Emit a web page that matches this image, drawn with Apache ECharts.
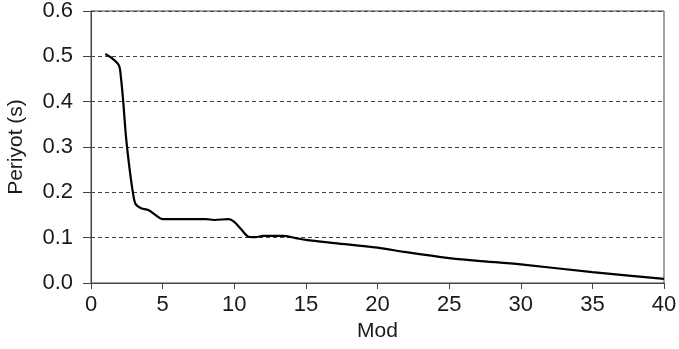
<!DOCTYPE html>
<html>
<head>
<meta charset="utf-8">
<script src="https://cdn.jsdelivr.net/npm/echarts@6/dist/echarts.min.js"></script>
<style>html,body{margin:0;padding:0;background:#fff}#c{width:679px;height:349px}</style>
</head>
<body>
<div id="c"></div>
<script>
var modes = [1, 1.5, 1.95, 2.1, 2.25, 2.45, 2.7, 2.9, 3.1, 3.5, 4.0, 4.5, 5.0, 6, 7, 8, 8.6, 9.6, 10, 10.5, 11, 11.5, 12, 13.4, 14.3, 15, 17, 20, 22, 25, 27, 30, 35, 40];
var periods = [0.505, 0.495, 0.480, 0.450, 0.400, 0.320, 0.250, 0.205, 0.175, 0.165, 0.161, 0.150, 0.141, 0.141, 0.141, 0.141, 0.139, 0.141, 0.135, 0.118, 0.102, 0.101, 0.104, 0.104, 0.099, 0.095, 0.088, 0.078, 0.068, 0.055, 0.049, 0.041, 0.024, 0.009];
var xTicks = [0, 5, 10, 15, 20, 25, 30, 35, 40];
var yTicks = [0.0, 0.1, 0.2, 0.3, 0.4, 0.5, 0.6];
var xName = 'Mod';
var yName = 'Periyot (s)';

var data = modes.map(function (m, i) { return [m, periods[i]]; });
var font = '"Liberation Sans", Arial, sans-serif';
var chart = echarts.init(document.getElementById('c'), null, {renderer: 'canvas'});
chart.setOption({
  animation: false,
  backgroundColor: '#fff',
  grid: {left: 91, right: 15, top: 11, bottom: 66, containLabel: false, outerBoundsMode: 'none',
    show: true, borderColor: '#444', borderWidth: 1, backgroundColor: 'transparent'},
  xAxis: {
    type: 'value', min: xTicks[0], max: xTicks[xTicks.length - 1], interval: 5,
    name: xName, nameLocation: 'middle', nameGap: 35,
    nameTextStyle: {fontFamily: font, fontSize: 21, color: '#1a1a1a'},
    axisLine: {show: true, lineStyle: {color: '#444', width: 1}},
    axisTick: {show: true, length: 6, lineStyle: {color: '#444'}},
    axisLabel: {fontFamily: font, fontSize: 22, color: '#1a1a1a', margin: 11},
    splitLine: {show: false}
  },
  yAxis: {
    type: 'value', min: yTicks[0], max: yTicks[yTicks.length - 1], interval: 0.1,
    name: yName, nameLocation: 'middle', nameGap: 64, nameRotate: 90,
    nameTextStyle: {fontFamily: font, fontSize: 21, color: '#1a1a1a'},
    axisLine: {show: true, lineStyle: {color: '#444', width: 1}},
    axisTick: {show: true, length: 8, lineStyle: {color: '#444'}},
    axisLabel: {fontFamily: font, fontSize: 22, color: '#1a1a1a', margin: 18,
      formatter: function (v) { return v.toFixed(1); }},
    splitLine: {show: true, lineStyle: {color: '#444', type: [4, 3], width: 1}}
  },
  series: [{
    type: 'line', data: data, showSymbol: false, smooth: 0.3,
    lineStyle: {color: '#000', width: 2.2}
  }]
});
</script>
</body>
</html>
